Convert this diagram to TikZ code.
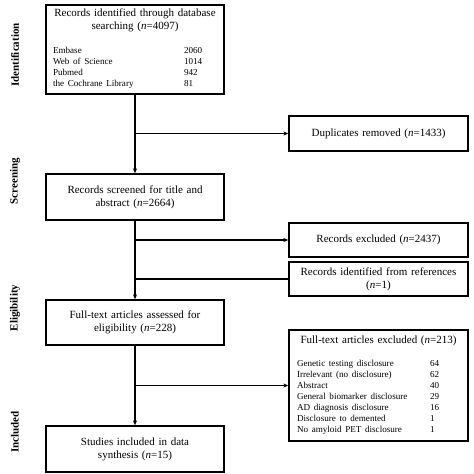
\documentclass[tikz,border=0pt]{standalone}
\usepackage{fontspec}
\setmainfont{Liberation Serif}
\usepackage{tikz}
\usetikzlibrary{arrows.meta,positioning}

\begin{document}
\begin{tikzpicture}[x=1pt,y=-1pt,
        box/.style={rectangle, draw=black, line width=1.3pt, fill=white,
                    minimum width=178pt, text width=164pt, align=center,
                    inner sep=0pt, font=\fontsize{11}{13}\selectfont},
        arr/.style={-{Stealth[length=5pt,width=4pt]}, line width=1.1pt},
        lnk/.style={line width=1.1pt},
        phase/.style={rotate=90, font=\fontsize{11}{13}\selectfont\bfseries}]
        \useasboundingbox (0,0) rectangle (474,474);
        % left column
        \node[box, minimum height=89pt] (ident) at (135,49.5)
            {Records identified through database\\searching (\textit{n}=4097)\\[13pt]
             {\fontsize{9.1}{11}\selectfont
              \begin{tabular}{@{}p{131pt}@{}p{33pt}@{}}
              Embase & 2060\\
              Web of Science & 1014\\
              Pubmed & 942\\
              the Cochrane Library & 81
              \end{tabular}}};
        \node[box, minimum height=46pt] (screen) at (135,197)
            {Records screened for title and\\abstract (\textit{n}=2664)};
        \node[box, minimum height=45pt] (elig) at (135,322.5)
            {Full-text articles assessed for\\eligibility (\textit{n}=228)};
        \node[box, minimum height=46pt] (incl) at (135,449)
            {Studies included in data\\synthesis (\textit{n}=15)};
        % right column
        \node[box, minimum width=179pt, minimum height=35pt] (dup) at (378.5,133.5)
            {Duplicates removed (\textit{n}=1433)};
        \node[box, minimum width=179pt, minimum height=34pt] (excl) at (378.5,240)
            {Records excluded (\textit{n}=2437)};
        \node[box, minimum width=179pt, minimum height=34pt] (refs) at (378.5,279)
            {Records identified from references\\(\textit{n}=1)};
        \node[box, minimum width=179pt, minimum height=111pt] (ftex) at (378.5,385.5)
            {Full-text articles excluded (\textit{n}=213)\\[12pt]
             {\fontsize{9.1}{11}\selectfont
              \begin{tabular}{@{}p{133pt}@{}p{30pt}@{}}
              Genetic testing disclosure & 64\\
              Irrelevant (no disclosure) & 62\\
              Abstract & 40\\
              General biomarker disclosure & 29\\
              AD diagnosis disclosure & 16\\
              Disclosure to demented & 1\\
              No amyloid PET disclosure & 1
              \end{tabular}}};
        % phase labels
        \node[phase] (pid)  at (15,55)  {Identification};
        \node[phase] (pscr) at (15,181) {Screening};
        \node[phase] (pel)  at (15,308) {Eligibility};
        \node[phase] (pinc) at (15,432) {Included};
        % branch points
        \coordinate (b1) at (ident.south |- dup.west);
        \coordinate (b2) at (screen.south |- excl.west);
        \coordinate (b3) at (screen.south |- refs.west);
        \coordinate (b4) at (elig.south |- ftex.west);
        % connectors
        \draw[arr] (ident.south) -- (screen.north);
        \draw[arr] (screen.south) -- (elig.north);
        \draw[arr] (elig.south) -- (incl.north);
        \draw[arr] (b1) -- (dup.west);
        \draw[arr] (b2) -- (excl.west);
        \draw[lnk] (refs.west) -- (b3);
        \draw[arr] (b4) -- (ftex.west);
    \end{tikzpicture}
\end{document}
